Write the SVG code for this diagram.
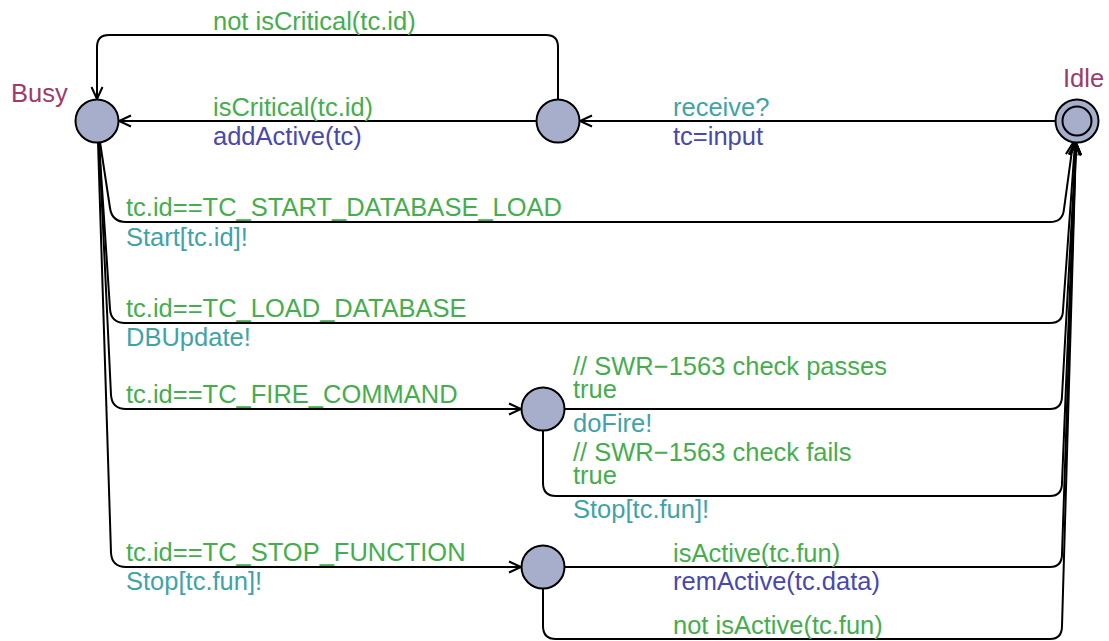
<svg xmlns="http://www.w3.org/2000/svg" width="1109" height="641" viewBox="0 0 1109 641">
  <style>
    text { font-family: "Liberation Sans", Arial, sans-serif; font-size: 25.5px; }
    .name { fill: #9c3b6e; }
    .guard { fill: #46ad4e; }
    .sync { fill: #3fa3a9; }
    .upd { fill: #4848ad; }
    .loc { fill: #a7aecb; stroke: #000; stroke-width: 2; }
    .edge { fill: none; stroke: #000; stroke-width: 2; stroke-linejoin: round; }
  </style>
  <defs>
    <marker id="arrow" markerUnits="userSpaceOnUse" markerWidth="16" markerHeight="14" viewBox="-13 -7 16 14" refX="0" refY="0" orient="auto">
      <path d="M -12,-5.5 L 0,0 L -12,5.5" fill="none" stroke="#000" stroke-width="2" stroke-linejoin="miter"/>
    </marker>
  </defs>
  <rect width="1109" height="641" fill="#fff"/>

  <!-- transitions -->
  <g id="connectors" class="edge" marker-end="url(#arrow)">
    <!-- Idle -> received -->
    <path d="M 1055,121 L 580,121"/>
    <!-- received -> Busy (critical) -->
    <path d="M 536,121 L 119,121"/>
    <!-- received -> Busy (not critical), over the top -->
    <path d="M 558,99 L 558,47 Q 558,35 546,35 L 109,35 Q 97,35 97,47 L 97,99"/>
    <!-- Busy -> Idle: start database load -->
    <path d="M 100,142 L 110,208 Q 112,222 126,222 L 1050,222 Q 1063,222 1064,209 L 1073,143"/>
    <!-- Busy -> Idle: load database -->
    <path d="M 99,142 L 110,309 Q 111,323 125,323 L 1050,323 Q 1063,323 1063,310 L 1075,143"/>
    <!-- Busy -> fire command -->
    <path d="M 99,142 L 111,395 Q 112,409 126,409 L 521,409"/>
    <!-- Busy -> stop function -->
    <path d="M 98,142 L 111,553 Q 112,567 126,567 L 521,567"/>
    <!-- fire -> Idle (check passes) -->
    <path d="M 565,409 L 1050,409 Q 1062,409 1062,396 L 1076,143"/>
    <!-- fire -> Idle (check fails) -->
    <path d="M 543,431 L 543,483 Q 543,496 556,496 L 1050,496 Q 1062,496 1062,483 L 1076,143"/>
    <!-- stop -> Idle (active) -->
    <path d="M 565,567 L 1050,567 Q 1062,567 1062,554 L 1076,143"/>
    <!-- stop -> Idle (not active) -->
    <path d="M 543,589 L 543,626 Q 543,639 556,639 L 1050,639 Q 1062,639 1062,626 L 1076,143"/>
  </g>

  <!-- locations -->
  <g id="busy">
    <circle class="loc" cx="97" cy="121" r="21.5"/>
    <text class="name" x="11" y="102">Busy</text>
  </g>
  <g id="received">
    <circle class="loc" cx="558" cy="121" r="21.5"/>
  </g>
  <g id="idle">
    <circle class="loc" cx="1077" cy="121" r="21.5"/>
    <circle cx="1077" cy="121" r="14.5" fill="none" stroke="#000" stroke-width="2"/>
    <text class="name" x="1063" y="87">Idle</text>
  </g>
  <g id="fire">
    <circle class="loc" cx="543" cy="409" r="21.5"/>
  </g>
  <g id="stop">
    <circle class="loc" cx="543" cy="567" r="21.5"/>
  </g>

  <!-- transition labels -->
  <g id="labels">
    <text class="guard" x="213" y="30">not isCritical(tc.id)</text>
    <text class="guard" x="213" y="116">isCritical(tc.id)</text>
    <text class="upd" x="213" y="145">addActive(tc)</text>
    <text class="sync" x="673" y="116">receive?</text>
    <text class="upd" x="673" y="145">tc=input</text>

    <text class="guard" x="126" y="216">tc.id==TC_START_DATABASE_LOAD</text>
    <text class="sync" x="126" y="246">Start[tc.id]!</text>
    <text class="guard" x="126" y="317">tc.id==TC_LOAD_DATABASE</text>
    <text class="sync" x="126" y="346">DBUpdate!</text>
    <text class="guard" x="126" y="403">tc.id==TC_FIRE_COMMAND</text>

    <text class="guard" x="573" y="375">// SWR−1563 check passes</text>
    <text class="guard" x="573" y="398">true</text>
    <text class="sync" x="573" y="432">doFire!</text>
    <text class="guard" x="573" y="461">// SWR−1563 check fails</text>
    <text class="guard" x="573" y="484">true</text>
    <text class="sync" x="573" y="518">Stop[tc.fun]!</text>

    <text class="guard" x="126" y="561">tc.id==TC_STOP_FUNCTION</text>
    <text class="sync" x="126" y="590">Stop[tc.fun]!</text>
    <text class="guard" x="673" y="562">isActive(tc.fun)</text>
    <text class="upd" x="673" y="590">remActive(tc.data)</text>
    <text class="guard" x="673" y="634">not isActive(tc.fun)</text>
  </g>
</svg>
